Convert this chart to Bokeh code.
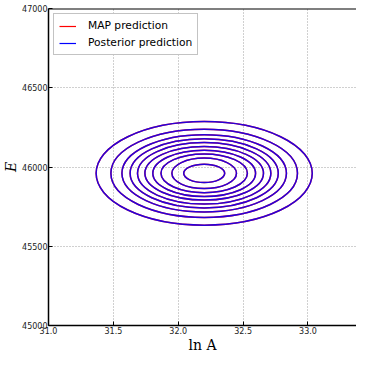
import numpy as np
from bokeh.plotting import figure
from bokeh.models import Range1d, FixedTicker, PrintfTickFormatter, Span, Legend, LegendItem
from bokeh.embed import file_html
from bokeh.resources import INLINE

# contour ellipses (center and semi-axes)
center_lnA = 32.20
center_E = 45960.0
semi_lnA = [0.158, 0.249, 0.333, 0.396, 0.457, 0.514, 0.571, 0.634, 0.719, 0.833]
semi_E = [58, 96, 122, 146, 169, 194, 218, 244, 278, 327]

x_ticks = [31.0, 31.5, 32.0, 32.5, 33.0, 33.5]
y_ticks = [45000, 45500, 46000, 46500, 47000]

series_names = ["MAP prediction", "Posterior prediction"]
series_colors = ["#ff0000", "#0000ff"]

p = figure(width=356, height=355, output_backend="svg", toolbar_location=None,
           x_range=Range1d(31.0, 33.374), y_range=Range1d(45000, 47000),
           min_border_left=44, min_border_right=0, min_border_top=8, min_border_bottom=24)

p.outline_line_color = None
p.background_fill_color = "white"
p.border_fill_color = "white"

n = len(semi_lnA)
xs = [center_lnA] * n
ys = [center_E] * n
w = [2 * a for a in semi_lnA]
h = [2 * b for b in semi_E]

p.ellipse(x=xs, y=ys, width=w, height=h, fill_color=None,
          line_color=series_colors[0], line_width=1.5)
p.ellipse(x=xs, y=ys, width=w, height=h, fill_color=None,
          line_color=series_colors[1], line_width=1.5, line_alpha=0.85)

# zero-length lines only used as legend handles
r1 = p.line([center_lnA, center_lnA], [center_E, center_E], line_color=series_colors[0], line_width=1.2)
r2 = p.line([center_lnA, center_lnA], [center_E, center_E], line_color=series_colors[1], line_width=1.2)
legend = Legend(items=[LegendItem(label=series_names[0], renderers=[r1]),
                       LegendItem(label=series_names[1], renderers=[r2])],
                location="top_left")
legend.margin = 5
legend.padding = 5
legend.spacing = 4
legend.glyph_width = 17
legend.glyph_height = 12
legend.label_height = 12
legend.label_standoff = 12
legend.label_text_font = "DejaVu Sans"
legend.label_text_font_size = "10.7px"
legend.label_text_color = "black"
legend.border_line_color = "#888888"
legend.border_line_width = 1
legend.background_fill_alpha = 1.0
p.add_layout(legend)

top = Span(location=47000, dimension="width", line_color="black", line_width=2)
p.add_layout(top)

for ax in (p.xaxis[0], p.yaxis[0]):
    ax.axis_line_color = "black"
    ax.axis_line_width = 1.5
    ax.major_tick_in = 4
    ax.major_tick_out = 0
    ax.minor_tick_line_color = None
    ax.major_tick_line_color = "black"
    ax.major_label_text_font = "DejaVu Sans"
    ax.major_label_text_font_size = "8px"
    ax.major_label_text_color = "#222222"
    ax.major_label_standoff = 1
    ax.axis_label_text_font = "DejaVu Serif"
    ax.axis_label_text_font_size = "14px"
    ax.axis_label_text_color = "black"
    ax.axis_label_standoff = 0

p.xaxis.ticker = FixedTicker(ticks=x_ticks)
p.yaxis.ticker = FixedTicker(ticks=y_ticks)
p.xaxis.formatter = PrintfTickFormatter(format="%.1f")
p.yaxis.formatter = PrintfTickFormatter(format="%d")
p.xaxis.axis_label = "ln A"
p.xaxis.axis_label_text_font_style = "normal"
p.yaxis.axis_label = "E"
p.yaxis.axis_label_text_font_style = "italic"

for g in (p.xgrid[0], p.ygrid[0]):
    g.grid_line_color = "#a0a0a0"
    g.grid_line_dash = "1 2"
    g.grid_line_width = 1

open("out.html", "w").write(file_html(p, INLINE))
